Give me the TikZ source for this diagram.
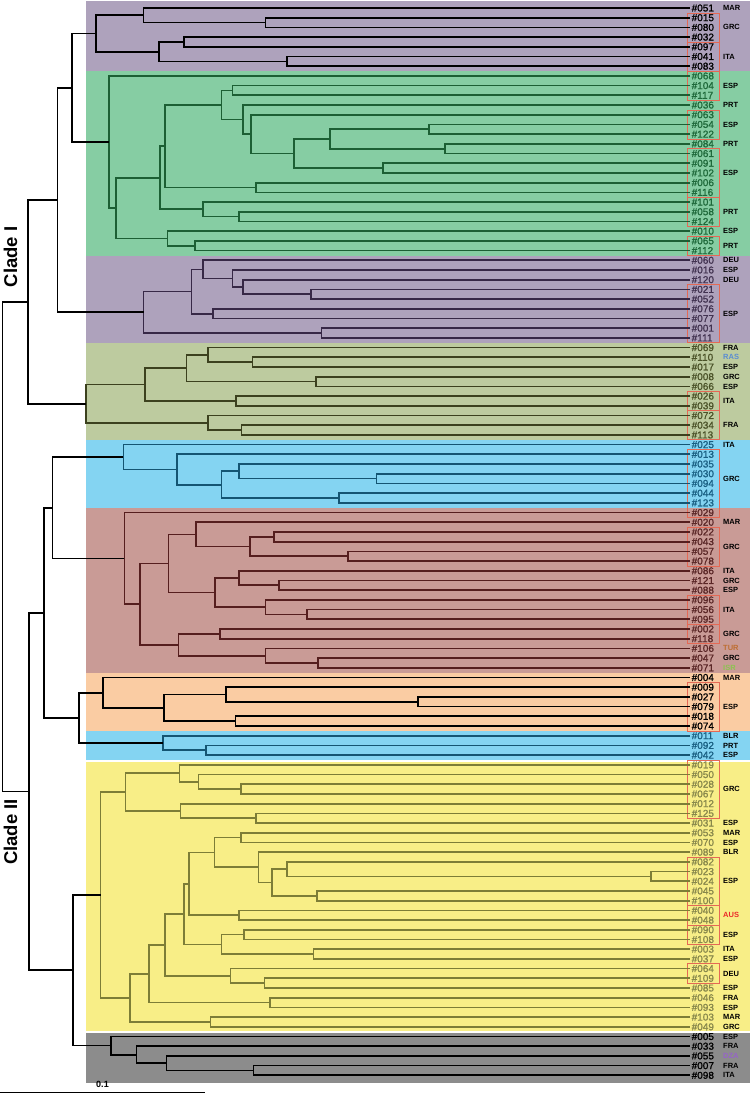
\documentclass[tikz,border=0pt]{standalone}
\usepackage{fontspec}
\setmainfont{Liberation Sans}
\newfontfamily\labfont[FakeBold=1.3]{Liberation Sans}
\usepackage{tikz}
\usetikzlibrary{calc}

% band fills and the darker ink used inside each band
\definecolor{pplbg}{RGB}{174,162,188}
\definecolor{grnbg}{RGB}{134,205,163}
\definecolor{olvbg}{RGB}{189,203,159}
\definecolor{blubg}{RGB}{132,212,242}
\definecolor{rosbg}{RGB}{201,155,150}
\definecolor{pchbg}{RGB}{250,204,163}
\definecolor{ylwbg}{RGB}{248,238,135}
\definecolor{grybg}{RGB}{140,140,140}
\definecolor{grnln}{RGB}{28,95,52}
\definecolor{pplln}{RGB}{55,40,70}
\definecolor{olvln}{RGB}{60,65,30}
\definecolor{bluln}{RGB}{20,85,115}
\definecolor{rosln}{RGB}{85,30,30}
\definecolor{ylwln}{RGB}{125,125,55}
\definecolor{grntx}{RGB}{30,105,58}
\definecolor{ppltx}{RGB}{65,50,80}
\definecolor{olvtx}{RGB}{75,82,40}
\definecolor{blutx}{RGB}{25,95,130}
\definecolor{rostx}{RGB}{90,38,38}
\definecolor{ylwtx}{RGB}{135,135,75}
\definecolor{boxred}{RGB}{228,105,85}
\definecolor{rascol}{RGB}{90,140,210}
\definecolor{turcol}{RGB}{190,110,50}
\definecolor{isrcol}{RGB}{140,195,80}
\definecolor{auscol}{RGB}{235,40,40}
\definecolor{dzacol}{RGB}{150,100,200}

% y of leaf number #1
\newcommand{\leafy}[1]{8+(#1-1)*9.703}
% join two children at depth #2
\newcommand{\clade}[4]{%
  \path ($(#3)!.5!(#4)$) coordinate (m#1);
  \coordinate (#1) at (#2,0 |- m#1);
  \draw[br] (#3) -| (#1) |- (#4);
}

\begin{document}
\begin{tikzpicture}[x=1pt, y=-1pt,
    br/.style={line width=1.7pt},
    leaf/.style={anchor=west, inner xsep=1.5pt, inner ysep=1pt, font=\labfont\fontsize{10}{10}\selectfont},
    cty/.style={anchor=west, inner sep=0pt, font=\fontsize{7.5}{8}\selectfont\bfseries},
    grp/.style={draw=boxred, line width=0.7pt},
    cladelab/.style={rotate=90, font=\fontsize{18.5}{19}\selectfont\bfseries}
  ]
  \useasboundingbox (0,0) rectangle (750,1096);

  % coloured bands
  \fill[pplbg] (86,1) rectangle (750,71.1);
  \fill[grnbg] (86,71.1) rectangle (750,255.5);
  \fill[pplbg] (86,255.5) rectangle (750,342.7);
  \fill[olvbg] (86,342.7) rectangle (750,439.8);
  \fill[blubg] (86,439.8) rectangle (750,507.7);
  \fill[rosbg] (86,507.7) rectangle (750,672.7);
  \fill[pchbg] (86,672.7) rectangle (750,730.9);
  \fill[blubg] (86,730.9) rectangle (750,759.6);
  \fill[ylwbg] (86,761.6) rectangle (750,1031);
  \fill[grybg] (86,1033) rectangle (750,1082.5);

  % boxes round groups of samples
  \foreach \a/\b in {2/4,5/7,8/10,12/14,16/20,21/23,25/26,30/35,41/42,43/45,
                     47/53,55/58,62/64,65/66,71/75,79/84,89/93,94/95,96/97,100/101}
    \draw[grp] (687,{\leafy{\a}-4.85}) rectangle (719,{\leafy{\b}+4.85});

  % purple band 1
  \foreach \i/\s in {1/051,2/015,3/080,4/032,5/097,6/041,7/083}
    \node[leaf] (s\s) at (690,{\leafy{\i}}) {\#\s};
  \clade{pa}{265.5}{s015}{s080}
  \clade{pb}{143.5}{s051}{pa}
  \clade{pc}{183.7}{s032}{s097}
  \clade{pd}{287}{s041}{s083}
  \clade{pe}{158.9}{pc}{pd}
  \clade{pf}{95.7}{pb}{pe}

  % green band
  \begin{scope}[color=grnln]
  \foreach \i/\s in {8/068,9/104,10/117,11/036,12/063,13/054,14/122,15/084,16/061,17/091,
                     18/102,19/006,20/116,21/101,22/058,23/124,24/010,25/065,26/112}
    \node[leaf, text=grntx] (s\s) at (690,{\leafy{\i}}) {\#\s};
  \clade{ga}{232.5}{s104}{s117}
  \clade{gb}{429.2}{s054}{s122}
  \clade{gc}{445}{s084}{s061}
  \clade{gd}{330}{gb}{gc}
  \clade{ge}{382.8}{s091}{s102}
  \clade{gf}{294.3}{gd}{ge}
  \clade{gg}{251.2}{s063}{gf}
  \clade{gh}{243}{s036}{gg}
  \clade{gi}{221.5}{ga}{gh}
  \clade{gj}{256}{s006}{s116}
  \clade{gk}{165}{gi}{gj}
  \clade{gl}{239.2}{s058}{s124}
  \clade{gm}{203.3}{s101}{gl}
  \clade{gn}{160.3}{gk}{gm}
  \clade{go}{195.2}{s065}{s112}
  \clade{gp}{167.5}{s010}{go}
  \clade{gq}{116.3}{gn}{gp}
  \clade{gr}{109.1}{s068}{gq}
  \end{scope}

  % purple band 2
  \begin{scope}[color=pplln]
  \foreach \i/\s in {27/060,28/016,29/120,30/021,31/052,32/076,33/077,34/001,35/111}
    \node[leaf, text=ppltx] (s\s) at (690,{\leafy{\i}}) {\#\s};
  \clade{qa}{311}{s021}{s052}
  \clade{qb}{243}{s120}{qa}
  \clade{qc}{232.5}{s016}{qb}
  \clade{qd}{203.3}{s060}{qc}
  \clade{qe}{213}{s076}{s077}
  \clade{qf}{191.4}{qd}{qe}
  \clade{qg}{321.5}{s001}{s111}
  \clade{qh}{143.5}{qf}{qg}
  \end{scope}

  % olive band
  \begin{scope}[color=olvln]
  \foreach \i/\s in {36/069,37/110,38/017,39/008,40/066,41/026,42/039,43/072,44/034,45/113}
    \node[leaf, text=olvtx] (s\s) at (690,{\leafy{\i}}) {\#\s};
  \clade{oa}{252.6}{s110}{s017}
  \clade{ob}{208.1}{s069}{oa}
  \clade{oc}{315.8}{s008}{s066}
  \clade{od}{186.6}{ob}{oc}
  \clade{oe}{235.9}{s026}{s039}
  \clade{of}{145}{od}{oe}
  \clade{og}{241.6}{s034}{s113}
  \clade{oh}{208.1}{s072}{og}
  \clade{oi}{86.1}{of}{oh}
  \end{scope}

  % blue band
  \begin{scope}[color=bluln]
  \foreach \i/\s in {46/025,47/013,48/035,49/030,50/094,51/044,52/123}
    \node[leaf, text=blutx] (s\s) at (690,{\leafy{\i}}) {\#\s};
  \clade{ba}{376.6}{s030}{s094}
  \clade{bb}{239.2}{s035}{ba}
  \clade{bc}{338.8}{s044}{s123}
  \clade{bd}{221.5}{bb}{bc}
  \clade{be}{177}{s013}{bd}
  \clade{bf}{123.4}{s025}{be}
  \end{scope}

  % rose band
  \begin{scope}[color=rosln]
  \foreach \i/\s in {53/029,54/020,55/022,56/043,57/057,58/078,59/086,60/121,61/088,
                     62/096,63/056,64/095,65/002,66/118,67/106,68/047,69/071}
    \node[leaf, text=rostx] (s\s) at (690,{\leafy{\i}}) {\#\s};
  \clade{ra}{274.2}{s022}{s043}
  \clade{rb}{347.8}{s057}{s078}
  \clade{rc}{250.2}{ra}{rb}
  \clade{rd}{196.2}{s020}{rc}
  \clade{re}{279}{s121}{s088}
  \clade{rf}{239.2}{s086}{re}
  \clade{rg}{307.2}{s056}{s095}
  \clade{rh}{265.6}{s096}{rg}
  \clade{ri}{215.3}{rf}{rh}
  \clade{rj}{168.4}{rd}{ri}
  \clade{rk}{220.1}{s002}{s118}
  \clade{rl}{318.2}{s047}{s071}
  \clade{rm}{265.6}{s106}{rl}
  \clade{rn}{178.5}{rk}{rm}
  \clade{ro}{140.2}{rj}{rn}
  \clade{rp}{124.4}{s029}{ro}
  \end{scope}

  % peach band
  \foreach \i/\s in {70/004,71/009,72/027,73/079,74/018,75/074}
    \node[leaf] (s\s) at (690,{\leafy{\i}}) {\#\s};
  \clade{ka}{417.7}{s027}{s079}
  \clade{kb}{225.8}{s009}{ka}
  \clade{kc}{235.4}{s018}{s074}
  \clade{kd}{164.1}{kb}{kc}
  \clade{ke}{102.9}{s004}{kd}

  % second blue band
  \begin{scope}[color=bluln]
  \foreach \i/\s in {76/011,77/092,78/042}
    \node[leaf, text=blutx] (s\s) at (690,{\leafy{\i}}) {\#\s};
  \clade{wa}{205.7}{s092}{s042}
  \clade{wb}{162.7}{s011}{wa}
  \end{scope}

  % yellow band
  \begin{scope}[color=ylwln]
  \foreach \i/\s in {79/019,80/050,81/028,82/067,83/012,84/125,85/031,86/053,87/070,88/089,
                     89/082,90/023,91/024,92/045,93/100,94/040,95/048,96/090,97/108,98/003,
                     99/037,100/064,101/109,102/085,103/046,104/093,105/103,106/049}
    \node[leaf, text=ylwtx] (s\s) at (690,{\leafy{\i}}) {\#\s};
  \clade{ya}{240.7}{s028}{s067}
  \clade{yb}{198.6}{s050}{ya}
  \clade{yc}{179.4}{s019}{yb}
  \clade{yd}{256}{s125}{s031}
  \clade{ye}{180.4}{s012}{yd}
  \clade{yf}{125.4}{yc}{ye}
  \clade{yg}{240.7}{s053}{s070}
  \clade{yh}{650.7}{s023}{s024}
  \clade{yi}{287}{s082}{yh}
  \clade{yj}{317.2}{s045}{s100}
  \clade{yk}{271.8}{yi}{yj}
  \clade{yl}{258.4}{s089}{yk}
  \clade{ym}{214.4}{yg}{yl}
  \clade{yn}{239.2}{s040}{s048}
  \clade{yo}{189}{ym}{yn}
  \clade{yp}{244}{s090}{s108}
  \clade{yq}{313.4}{s003}{s037}
  \clade{yr}{221.5}{yp}{yq}
  \clade{ys}{184.2}{yo}{yr}
  \clade{yt}{264.6}{s109}{s085}
  \clade{yu}{230.6}{s064}{yt}
  \clade{yv}{165.1}{ys}{yu}
  \clade{yw}{270.3}{s046}{s093}
  \clade{yx}{149.3}{yv}{yw}
  \clade{yy}{210.5}{s103}{s049}
  \clade{yz}{130.1}{yx}{yy}
  \clade{yroot}{100.5}{yf}{yz}
  \end{scope}

  % grey band
  \foreach \i/\s in {107/005,108/033,109/055,110/007,111/098}
    \node[leaf] (s\s) at (690,{\leafy{\i}}) {\#\s};
  \clade{xa}{253.6}{s007}{s098}
  \clade{xb}{166.5}{s055}{xa}
  \clade{xc}{136.4}{s033}{xb}
  \clade{xd}{111}{s005}{xc}

  % backbone
  \clade{n2}{71.8}{pf}{gr}
  \clade{n1}{57.4}{n2}{qh}
  \clade{cI}{27.8}{n1}{oi}
  \clade{n5}{52.6}{bf}{rp}
  \clade{n6}{79}{ke}{wb}
  \clade{n3}{44}{n5}{n6}
  \clade{n4}{73.2}{yroot}{xd}
  \clade{cII}{28.7}{n3}{n4}
  \clade{root}{2.4}{cI}{cII}

  % countries
  \foreach \p/\c [count=\k] in {1/MAR,3/GRC,6/ITA,9/ESP,11/PRT,13/ESP,15/PRT,18/ESP,22/PRT,
      24/ESP,25.5/PRT,27/DEU,28/ESP,29/DEU,32.5/ESP,36/FRA,38/ESP,39/GRC,40/ESP,41.5/ITA,
      44/FRA,46/ITA,49.5/GRC,54/MAR,56.5/GRC,59/ITA,60/GRC,61/ESP,63/ITA,65.5/GRC,68/GRC,
      70/MAR,73/ESP,76/BLR,77/PRT,78/ESP,81.5/GRC,85/ESP,86/MAR,87/ESP,88/BLR,91/ESP,
      96.5/ESP,98/ITA,99/ESP,100.5/DEU,102/ESP,103/FRA,104/ESP,105/MAR,106/GRC,107/ESP,
      108/FRA,110/FRA,111/ITA}
    \node[cty] (cc\k) at (723,{\leafy{\p}}) {\c};
  \foreach \p/\c/\col [count=\k] in {37/RAS/rascol,67/TUR/turcol,69/ISR/isrcol,
      94.5/AUS/auscol,109/DZA/dzacol}
    \node[cty, text=\col] (cx\k) at (723,{\leafy{\p}}) {\c};

  % clade names
  \node[cladelab] (cladeA) at (10.5,257) {Clade I};
  \node[cladelab] (cladeB) at (10.5,832) {Clade II};

  % scale bar
  \coordinate (sb0) at (0,1092.5);
  \coordinate (sb1) at (205,1092.5);
  \draw[br] (sb0) -- node[above=1pt, font=\fontsize{9}{9}\selectfont\bfseries] (sblab) {0.1} (sb1);
\end{tikzpicture}
\end{document}
